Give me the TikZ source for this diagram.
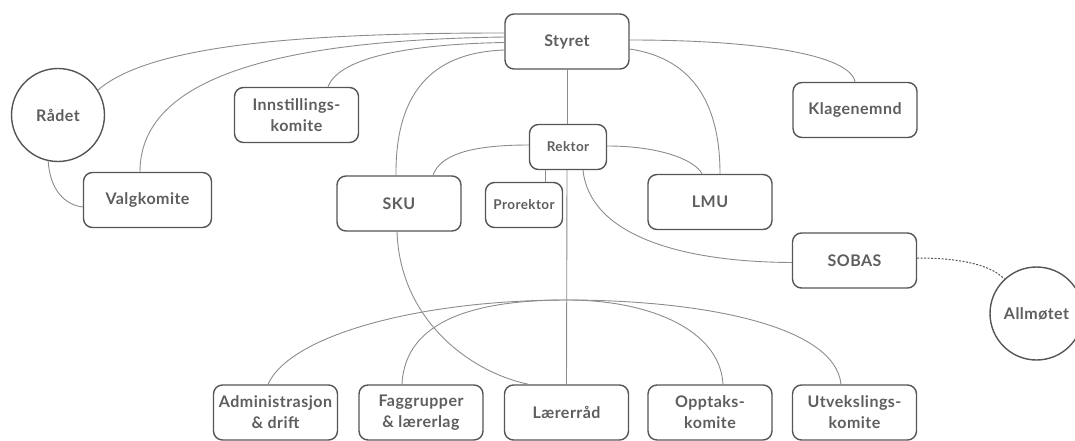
\documentclass[tikz,border=0pt]{standalone}
\usepackage{fontspec}
\setmainfont{Lato}[LetterSpace=3]
\definecolor{boxc}{HTML}{555555}
\definecolor{linec}{HTML}{8C8C8C}
\definecolor{textc}{HTML}{5E5E5E}
\begin{document}
\begin{tikzpicture}[x=1pt,y=-1pt,
  box/.style={draw=boxc,line width=1.4pt,rounded corners=9pt,minimum width=124pt,minimum height=55pt,inner sep=0pt,align=center,text=textc,font=\fontsize{16}{21}\selectfont\bfseries},
  smallbox/.style={box,minimum width=77pt,minimum height=45pt,font=\fontsize{13.5}{16}\selectfont\bfseries},
  circ/.style={draw=boxc,line width=1.4pt,circle,minimum size=93pt,inner sep=0pt,text=textc,font=\fontsize{16}{21}\selectfont\bfseries},
  conn/.style={draw=linec,line width=0.9pt},
  dotconn/.style={draw=boxc,line width=1pt,dash pattern=on 2pt off 1.5pt}]
\useasboundingbox (0,0) rectangle (1075,441);
\clip (0,0) rectangle (1075,441);
% nodes
\node[box] (styret) at (567,41.5) {Styret};
\node[smallbox] (rektor) at (568,147) {Rektor};
\node[smallbox] (prorektor) at (524,205) {Prorektor};
\node[box] (sku) at (399,203.5) {SKU};
\node[box] (lmu) at (710,202) {LMU};
\node[box] (klage) at (855,110) {Klagenemnd};
\node[box] (sobas) at (854.5,260.5) {SOBAS};
\node[box] (innst) at (296.5,115) {Innstillings-\\komite};
\node[box,minimum width=128pt] (valg) at (147.5,200) {Valgkomite};
\node[circ] (raadet) at (58,115) {Rådet};
\node[circ] (allm) at (1036.5,313.5) {Allmøtet};
\node[box] (admin) at (275.5,412.5) {Administrasjon\\\& drift};
\node[box] (fagg) at (421,412.5) {Faggrupper\\\& lærerlag};
\node[box] (laerer) at (566.5,412.5) {Lærerråd};
\node[box] (oppt) at (710,412.5) {Opptaks-\\komite};
\node[box] (utv) at (854.5,412.5) {Utvekslings-\\komite};
\coordinate (hub) at (567,300);
% connectors
\draw[conn] (raadet.32) .. controls (150,45) and (300,33) .. ([yshift=8.5pt]styret.west);
\draw[conn] ([xshift=-7.5pt]valg.north) .. controls (140,70) and (300,40) .. ([yshift=4.5pt]styret.west);
\draw[conn] ([xshift=31.5pt]innst.north) .. controls (340,55) and (420,44) .. ([yshift=-1pt]styret.west);
\draw[conn] ([xshift=-3pt]sku.north) .. controls (395,75) and (450,52) .. ([yshift=-8.5pt]styret.west);
\draw[conn] (raadet.258) .. controls (50,190) and (65,205) .. ([yshift=-7pt]valg.west);
\draw[conn] (styret.south) -- (styret.south |- rektor.north);
\draw[conn] ([yshift=2pt]rektor.west) .. controls (470,145) and (440,155) .. ([xshift=34pt]sku.north);
\draw[conn] ([xshift=-23pt]rektor.south) -- ([xshift=-23pt]rektor.south |- prorektor.north);
\draw[conn] ([xshift=-1pt]rektor.south) -- (laerer.north);
\draw[conn] ([yshift=1pt]rektor.east) .. controls (660,146) and (695,160) .. ([xshift=-8pt]lmu.north);
\draw[conn] ([yshift=-7.5pt]styret.east) .. controls (690,58) and (720,100) .. ([xshift=10pt]lmu.north);
\draw[conn] ([yshift=1.5pt]styret.east) .. controls (760,40) and (850,55) .. (klage.north);
\draw[conn] ([xshift=15pt]rektor.south) .. controls (590,235) and (680,262) .. ([yshift=-2pt]sobas.west);
\draw[conn] ([xshift=-2pt]sku.south) .. controls (400,320) and (470,372) .. ([xshift=-38pt]laerer.north);
\draw[conn] (hub) .. controls (420,300) and (290,335) .. ([xshift=-7.5pt]admin.north);
\draw[conn] (hub) .. controls (480,300) and (405,318) .. ([xshift=-19pt]fagg.north);
\draw[conn] (hub) .. controls (650,300) and (720,330) .. ([xshift=13pt]oppt.north);
\draw[conn] (hub) .. controls (700,300) and (835,325) .. ([xshift=-13.5pt]utv.north);
\draw[dotconn] ([yshift=2.5pt]sobas.east) .. controls (950,258) and (988,262) .. (allm.133);
\end{tikzpicture}
\end{document}
